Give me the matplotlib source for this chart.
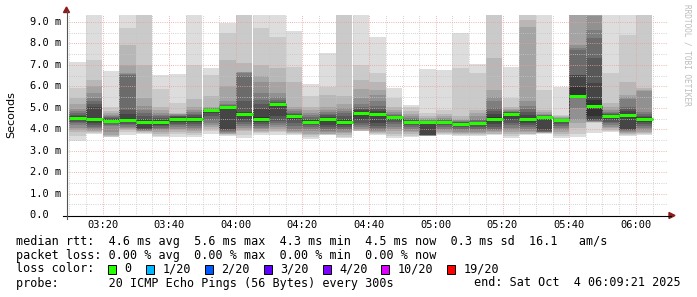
import numpy as np
import pandas as pd
import matplotlib
matplotlib.use('Agg')
import matplotlib.pyplot as plt
import matplotlib.dates as mdates
from matplotlib.lines import Line2D
from matplotlib.patches import Rectangle, Polygon

# smokeping style graph, 20 pings per 5 min step
start_time = '2025-10-04 03:09:21'
end_time = '2025-10-04 06:09:21'
first_bar = '2025-10-04 03:10'

# median rtt per bar (ms)
median = [4.52, 4.47, 4.40, 4.45, 4.32, 4.32, 4.47, 4.48, 4.90, 5.02,
          4.70, 4.47, 5.19, 4.60, 4.36, 4.50, 4.33, 4.78, 4.72, 4.57,
          4.32, 4.33, 4.33, 4.26, 4.27, 4.47, 4.71, 4.47, 4.58, 4.44,
          5.55, 5.08, 4.62, 4.68, 4.46]

# sorted ping times per bar (ms), 20 each
pings = [
    [3.43, 3.67, 3.85, 3.98, 4.08, 4.18, 4.28, 4.36, 4.42, 4.49, 4.55, 4.62, 4.68, 4.75, 4.85, 4.95, 5.18, 5.45, 5.92, 7.15],
    [3.78, 3.82, 3.86, 3.92, 3.98, 4.05, 4.12, 4.20, 4.30, 4.44, 4.50, 5.05, 5.20, 5.30, 5.45, 5.70, 6.00, 6.30, 7.23, 9.60],
    [3.62, 3.66, 3.70, 3.75, 3.85, 4.15, 4.22, 4.28, 4.33, 4.38, 4.42, 4.47, 4.51, 4.56, 4.62, 4.68, 4.75, 4.83, 5.06, 6.72],
    [3.73, 3.88, 3.95, 4.00, 4.06, 4.12, 4.18, 4.25, 4.32, 4.40, 4.50, 4.70, 4.91, 6.55, 6.58, 6.61, 7.00, 7.93, 8.70, 9.60],
    [3.80, 3.84, 3.87, 3.90, 3.92, 3.95, 3.97, 4.00, 4.05, 4.28, 4.36, 4.50, 4.60, 4.75, 4.90, 5.10, 5.45, 7.00, 9.35, 9.60],
    [3.65, 3.70, 3.80, 3.88, 3.95, 4.00, 4.08, 4.15, 4.22, 4.29, 4.35, 4.45, 4.52, 4.60, 4.68, 4.78, 4.90, 5.05, 5.90, 6.53],
    [3.65, 3.78, 3.88, 3.95, 4.02, 4.10, 4.18, 4.26, 4.34, 4.44, 4.50, 4.55, 4.60, 4.64, 4.67, 4.70, 4.72, 4.75, 5.22, 6.58],
    [3.62, 3.72, 3.82, 3.90, 3.98, 4.05, 4.15, 4.25, 4.35, 4.43, 4.52, 4.58, 4.65, 4.72, 4.80, 4.90, 5.06, 5.40, 7.00, 9.60],
    [3.79, 3.90, 4.00, 4.10, 4.20, 4.30, 4.45, 4.60, 4.75, 4.88, 4.93, 4.94, 4.95, 4.96, 4.98, 5.00, 5.06, 5.53, 6.53, 6.85],
    [3.68, 3.72, 3.76, 3.80, 3.84, 3.87, 3.90, 3.95, 4.02, 5.00, 5.03, 5.05, 5.08, 5.12, 5.20, 5.30, 6.00, 7.23, 8.47, 8.97],
    [3.59, 3.75, 3.90, 3.97, 4.05, 4.15, 4.25, 4.35, 4.45, 4.66, 4.74, 4.80, 5.30, 6.50, 6.60, 6.65, 6.69, 7.08, 9.35, 9.60],
    [3.74, 3.82, 3.88, 3.94, 4.00, 4.08, 4.16, 4.25, 4.35, 4.42, 4.55, 4.95, 5.20, 5.37, 5.70, 6.20, 6.46, 7.00, 8.70, 9.60],
    [3.75, 3.85, 3.92, 4.00, 4.10, 4.20, 4.30, 4.40, 4.60, 5.18, 5.20, 5.23, 5.28, 5.35, 5.50, 5.70, 6.22, 6.84, 8.32, 9.60],
    [3.74, 3.78, 3.82, 3.86, 3.92, 4.00, 4.15, 4.30, 4.45, 4.57, 4.63, 4.67, 4.72, 4.78, 4.85, 4.95, 5.06, 6.22, 6.92, 8.60],
    [3.55, 3.65, 3.72, 3.80, 3.90, 4.00, 4.10, 4.18, 4.25, 4.32, 4.40, 4.45, 4.50, 4.57, 4.65, 4.75, 4.90, 5.06, 5.53, 6.12],
    [3.74, 3.75, 3.77, 3.80, 3.85, 3.92, 4.00, 4.10, 4.20, 4.47, 4.53, 4.58, 4.65, 4.72, 4.80, 4.90, 5.06, 5.60, 5.99, 7.54],
    [3.59, 3.65, 3.75, 3.82, 3.88, 3.95, 4.02, 4.10, 4.18, 4.26, 4.40, 4.50, 4.60, 4.75, 4.85, 5.00, 5.20, 5.53, 9.35, 9.60],
    [3.90, 3.92, 3.94, 3.97, 4.02, 4.10, 4.20, 4.30, 4.45, 4.74, 4.82, 4.88, 4.95, 5.05, 5.20, 5.45, 5.90, 6.30, 7.00, 9.60],
    [3.74, 3.78, 3.82, 3.87, 3.92, 3.98, 4.05, 4.15, 4.30, 4.68, 4.76, 4.85, 4.95, 5.10, 5.30, 5.60, 5.83, 6.22, 6.61, 8.32],
    [3.59, 3.70, 3.80, 3.90, 4.00, 4.10, 4.25, 4.35, 4.45, 4.55, 4.58, 4.60, 4.63, 4.67, 4.72, 4.80, 4.90, 5.06, 5.45, 5.91],
    [3.64, 3.70, 3.78, 3.85, 3.92, 4.00, 4.10, 4.18, 4.24, 4.30, 4.34, 4.37, 4.41, 4.46, 4.52, 4.60, 4.70, 4.83, 5.05, 5.14],
    [3.67, 3.675, 3.68, 3.69, 3.70, 3.71, 3.72, 3.73, 3.75, 4.32, 4.34, 4.36, 4.38, 4.40, 4.43, 4.47, 4.52, 4.60, 4.75, 6.81],
    [3.74, 3.78, 3.82, 3.88, 3.95, 4.02, 4.10, 4.18, 4.25, 4.31, 4.35, 4.37, 4.40, 4.43, 4.47, 4.52, 4.60, 4.70, 4.91, 6.77],
    [3.67, 3.71, 3.76, 3.82, 3.88, 3.95, 4.02, 4.10, 4.18, 4.24, 4.28, 4.30, 4.32, 4.35, 4.39, 4.44, 4.50, 4.60, 6.85, 8.47],
    [3.67, 3.72, 3.77, 3.82, 3.88, 3.95, 4.02, 4.10, 4.18, 4.25, 4.29, 4.32, 4.36, 4.42, 4.50, 4.60, 4.75, 4.91, 6.61, 7.05],
    [3.74, 3.77, 3.80, 3.85, 3.90, 3.95, 4.00, 4.10, 4.25, 4.42, 4.55, 4.70, 4.85, 5.00, 5.30, 5.50, 5.83, 7.31, 9.35, 9.60],
    [3.59, 3.68, 3.78, 3.88, 3.95, 4.05, 4.18, 4.30, 4.45, 4.68, 4.74, 4.77, 4.79, 4.82, 4.85, 4.90, 4.95, 5.06, 5.45, 6.92],
    [3.74, 3.77, 3.80, 3.86, 3.92, 4.00, 4.10, 4.20, 4.30, 4.42, 4.53, 4.65, 4.80, 4.95, 5.10, 5.30, 8.78, 9.10, 9.35, 9.60],
    [3.80, 3.82, 3.83, 3.84, 3.85, 3.86, 3.88, 3.90, 3.95, 4.56, 4.60, 4.61, 4.63, 4.65, 4.68, 4.72, 4.80, 4.91, 5.83, 9.60],
    [3.59, 3.70, 3.80, 3.88, 3.95, 4.05, 4.15, 4.25, 4.35, 4.42, 4.45, 4.46, 4.47, 4.48, 4.50, 4.52, 4.55, 4.60, 4.67, 5.99],
    [3.65, 3.80, 4.04, 4.30, 4.43, 4.98, 5.47, 5.48, 5.49, 5.50, 5.99, 6.53, 6.55, 7.69, 7.80, 7.93, 9.35, 9.40, 9.50, 9.60],
    [3.84, 4.28, 4.32, 4.34, 4.36, 4.38, 4.40, 4.42, 4.43, 4.60, 5.36, 6.14, 7.31, 8.24, 8.63, 9.30, 9.40, 9.45, 9.50, 9.60],
    [3.89, 3.93, 3.98, 4.05, 4.12, 4.20, 4.28, 4.35, 4.45, 4.58, 4.64, 4.66, 4.69, 4.74, 4.80, 4.90, 5.05, 5.21, 6.61, 9.60],
    [3.68, 3.75, 3.80, 3.84, 3.88, 3.92, 3.95, 3.98, 4.02, 4.64, 4.72, 4.85, 4.95, 5.05, 5.40, 5.50, 5.60, 6.22, 8.40, 9.60],
    [3.73, 3.77, 3.82, 3.88, 3.95, 4.05, 4.15, 4.25, 4.35, 4.42, 4.50, 4.55, 4.62, 4.70, 4.80, 5.80, 5.85, 5.91, 9.35, 9.60],
]

tick_labels = ['03:20', '03:40', '04:00', '04:20', '04:40', '05:00', '05:20', '05:40', '06:00']
loss_labels = ['0', '1/20', '2/20', '3/20', '4/20', '10/20', '19/20']
loss_colors = ['#26ff00', '#00b8ff', '#0059ff', '#5e00ff', '#7e00ff', '#dd00ff', '#ff0000']

rtt_line = 'median rtt:  4.6 ms avg  5.6 ms max  4.3 ms min  4.5 ms now  0.3 ms sd  16.1   am/s'
loss_line = 'packet loss: 0.00 % avg  0.00 % max  0.00 % min  0.00 % now'
probe_line = 'probe:       20 ICMP Echo Pings (56 Bytes) every 300s'
end_line = 'end: Sat Oct  4 06:09:21 2025'

W, H = 697, 297
MONO = 'DejaVu Sans Mono'
PX_PER_MS = 21.44   # vertical scale of the graph area


def fx(px):
    return px / W


def fy(py):
    return 1 - py / H


fig = plt.figure(figsize=(W / 100, H / 100), dpi=100)
fig.patch.set_facecolor('white')

ax = fig.add_axes([fx(67), fy(215), 600 / W, 200 / H])
t0 = mdates.date2num(pd.Timestamp(start_time))
t1 = mdates.date2num(pd.Timestamp(end_time))
ymax = 200 / PX_PER_MS
ax.set_xlim(t0, t1)
ax.set_ylim(0, ymax)
ax.axis('off')

bars = pd.date_range(first_bar, periods=len(median), freq='5min')
x = mdates.date2num(bars.to_pydatetime())
step = 5 / 1440.0

# smoke: outer pairs light, inner pairs dark
p = np.array(pings)
half = p.shape[1] // 2
for k in range(1, half + 1):
    g = int(190 / half * (half - k)) + 50
    col = '#%02x%02x%02x' % (g, g, g)
    lo = p[:, k - 1]
    hi = p[:, p.shape[1] - k]
    ax.bar(x, hi - lo, bottom=lo, width=step, align='edge', color=col,
           linewidth=0, antialiased=False, zorder=1)

# grid
dots = (0, (0.72, 1.44))
minor_t = pd.date_range('2025-10-04 03:10', '2025-10-04 06:05', freq='5min')
minor_x = [mdates.date2num(t) for t in minor_t if t.minute % 20 != 0]
major_x = [mdates.date2num(t) for t in minor_t if t.minute % 20 == 0]
ax.vlines(minor_x, 0, ymax, colors='#c6c6c6', linestyles=dots, lw=0.72, zorder=3)
ax.vlines(major_x, 0, ymax, colors='#e8a0a0', linestyles=dots, lw=0.72, zorder=3)
ax.hlines(np.arange(0.5, 9.0, 1.0), t0, t1, colors='#c6c6c6', linestyles=dots, lw=0.72, zorder=3)
ax.hlines(np.arange(1.0, 9.5, 1.0), t0, t1, colors='#e8a0a0', linestyles=dots, lw=0.72, zorder=3)

# median: thin dark step line, then loss coloured segments
ax.step(np.append(x, x[-1] + step), np.append(median, median[-1]), where='post',
        color='#202020', lw=0.72, linestyle=(0, (0.72, 0.72)), zorder=4)
ax.hlines(median, x, x + step, colors=loss_colors[0], lw=2.16, zorder=5)

# axes with arrows
fig.add_artist(Line2D([fx(63), fx(671)], [fy(215.5), fy(215.5)], color='black', lw=0.8))
fig.add_artist(Line2D([fx(66.5), fx(66.5)], [fy(219), fy(11)], color='#555555', lw=0.8))
fig.add_artist(Polygon([(fx(669), fy(212.5)), (fx(675), fy(215.5)), (fx(669), fy(218.5))],
                       closed=True, color='#8c1c1c', transform=fig.transFigure))
fig.add_artist(Polygon([(fx(63.5), fy(12.5)), (fx(66.5), fy(7)), (fx(69.5), fy(12.5))],
                       closed=True, color='#8c1c1c', transform=fig.transFigure))

# y labels
for v in range(10):
    lab = '%.1f m' % v if v else '0.0  '
    fig.text(fx(61), fy(215 - PX_PER_MS * v), lab, ha='right', va='center',
             family=MONO, fontsize=7.5, color='black')

# x labels
for lab in tick_labels:
    t = mdates.date2num(pd.Timestamp('2025-10-04 ' + lab))
    px = 67 + (t - t0) / (t1 - t0) * 600
    fig.text(fx(px), fy(224.5), lab, ha='center', va='center', family=MONO, fontsize=7.5)

fig.text(fx(11), fy(115), 'Seconds', rotation=90, ha='center', va='center',
         family='DejaVu Sans', fontsize=8)
fig.text(fx(687), fy(4), 'RRDTOOL / TOBI OETIKER', rotation=270, ha='center', va='top',
         family=MONO, fontsize=5.6, color='#bcbcbc')

# legend block
CH = 7.1
fig.text(fx(16), fy(241), rtt_line, ha='left', va='center', family=MONO, fontsize=8.5)
fig.text(fx(16), fy(255), loss_line, ha='left', va='center', family=MONO, fontsize=8.5)
fig.text(fx(16), fy(269), 'loss color:', ha='left', va='center', family=MONO, fontsize=8.5)
cur = 16 + 13 * CH
for lab, col in zip(loss_labels, loss_colors):
    fig.add_artist(Rectangle((fx(cur), fy(273.5)), 8 / W, 9 / H, facecolor=col,
                             edgecolor='black', lw=0.7, transform=fig.transFigure))
    fig.text(fx(cur + 16.3), fy(269), lab, ha='left', va='center', family=MONO, fontsize=8.5)
    cur = cur + 16.3 + len(lab) * CH + 2 * CH
fig.text(fx(16), fy(283), probe_line, ha='left', va='center', family=MONO, fontsize=8.5)
fig.text(fx(681), fy(283), end_line, ha='right', va='center', family=MONO, fontsize=8.5)

fig.savefig('out.png', dpi=100, facecolor='white')
